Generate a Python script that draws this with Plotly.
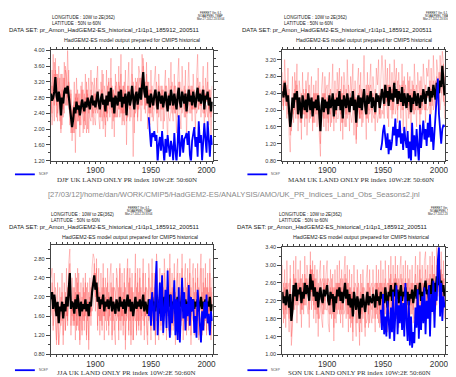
import plotly.graph_objects as go

# ---------------- data ----------------
YEARS = list(range(1860, 2006))
NCEP_YEARS = list(range(1948, 2006))

DJF_RED_A = [3.2, 2.4, 3.9, 2.6, 3.5, 2.9, 2.2, 3.6, 3.0, 1.9,
             3.4, 2.5, 3.7, 3.1, 2.6, 4.0, 2.7, 2.1, 3.0, 1.7,
             2.3, 3.2, 2.0, 3.3, 2.4, 2.9, 1.8, 3.1, 2.5, 3.0,
             2.2, 3.4, 2.6, 3.0, 1.9, 2.8, 3.5, 2.7, 2.1, 3.3,
             2.6, 3.1, 3.6, 2.3, 2.0, 3.2, 2.7, 3.4, 2.4, 2.1,
             3.5, 2.2, 3.3, 2.8, 3.8, 2.0, 3.0, 1.8, 3.4, 2.6,
             2.3, 3.6, 2.5, 3.9, 2.1, 3.1, 2.4, 3.5, 1.6, 3.0,
             3.7, 2.2, 2.9, 3.8, 2.5, 1.9, 3.3, 3.0, 2.2, 3.6,
             3.4, 2.6, 3.9, 3.3, 2.7, 2.4, 3.7, 2.0, 3.2, 2.1,
             3.5, 2.3, 2.8, 3.3, 3.6, 2.5, 1.9, 3.4, 2.9, 2.2,
             3.1, 2.0, 3.0, 3.5, 2.4, 1.7, 3.3, 2.8, 3.7, 2.5,
             2.2, 3.4, 2.6, 1.9, 3.2, 3.8, 2.4, 2.0, 3.6, 2.9,
             2.3, 3.5, 1.8, 2.9, 3.7, 2.6, 3.1, 2.2, 3.4, 2.7,
             2.0, 3.3, 3.9, 2.5, 3.2, 2.3, 2.9, 3.6, 1.9, 3.3,
             2.8, 3.7, 2.1, 3.0, 1.8, 2.6]
DJF_RED_B = [2.5, 3.1, 2.8, 3.4, 3.0, 2.3, 3.3, 2.6, 2.2, 2.9,
             2.1, 2.9, 2.4, 3.5, 3.3, 2.6, 3.2, 3.0, 1.9, 2.5,
             1.9, 2.2, 2.9, 2.0, 2.8, 2.3, 2.9, 2.1, 3.2, 2.4,
             2.9, 2.1, 3.0, 2.6, 3.3, 2.3, 2.2, 3.2, 3.1, 2.3,
             2.1, 2.7, 2.4, 3.0, 3.0, 2.3, 3.5, 2.0, 3.1, 2.9,
             2.4, 3.1, 2.6, 2.3, 2.7, 3.1, 2.5, 2.9, 2.3, 3.2,
             2.9, 2.5, 3.1, 2.4, 3.0, 2.2, 3.2, 2.4, 2.8, 2.3,
             2.4, 3.0, 2.3, 2.7, 3.2, 2.9, 2.4, 2.6, 3.3, 2.5,
             2.7, 3.3, 2.6, 3.8, 3.1, 3.2, 2.6, 3.2, 2.4, 3.0,
             2.4, 3.1, 2.2, 2.5, 2.6, 3.2, 2.9, 2.3, 2.5, 3.1,
             2.5, 3.0, 2.2, 2.6, 3.1, 2.9, 2.3, 2.2, 2.5, 3.2,
             3.0, 2.4, 3.1, 2.9, 2.3, 2.6, 3.2, 2.9, 2.4, 2.6,
             3.1, 2.3, 2.9, 2.4, 2.5, 3.0, 2.4, 3.1, 2.5, 3.0,
             2.9, 2.4, 2.5, 3.1, 2.6, 3.0, 2.5, 2.4, 3.0, 2.3,
             2.6, 2.3, 3.0, 2.4, 2.9, 3.1]
DJF_RED_C = [2.9, 2.1, 2.6, 3.7, 3.3, 3.4, 2.4, 2.8, 3.3, 2.0,
             3.0, 2.3, 3.3, 2.6, 2.8, 3.1, 2.5, 2.6, 2.2, 1.9,
             2.5, 2.7, 1.4, 2.9, 2.2, 2.6, 2.1, 2.7, 2.6, 2.3,
             2.0, 2.8, 1.9, 2.9, 2.4, 2.7, 2.8, 2.6, 2.4, 2.5,
             2.9, 2.5, 2.8, 2.6, 2.3, 2.8, 2.2, 2.5, 2.7, 1.8,
             2.7, 2.4, 2.9, 2.9, 2.6, 2.4, 3.0, 2.3, 2.8, 2.3,
             2.5, 2.8, 2.3, 2.6, 2.4, 3.1, 2.1, 2.7, 2.5, 3.1,
             2.6, 2.5, 3.0, 2.8, 1.3, 2.5, 2.8, 3.2, 2.3, 2.6,
             3.0, 2.2, 2.9, 3.2, 2.8, 2.6, 2.9, 2.6, 2.9, 2.4,
             2.8, 2.7, 2.8, 2.6, 2.9, 2.4, 2.6, 3.1, 2.9, 2.5,
             2.8, 2.5, 2.9, 2.7, 2.5, 2.6, 2.9, 2.8, 2.7, 2.4,
             2.6, 2.8, 2.4, 2.6, 3.0, 2.7, 2.5, 2.6, 2.8, 2.9,
             2.5, 2.9, 2.6, 2.8, 2.7, 2.4, 3.0, 2.5, 2.9, 2.5,
             2.7, 2.8, 2.7, 2.5, 2.9, 2.6, 3.0, 2.9, 2.5, 2.9,
             2.8, 2.7, 2.6, 3.0, 2.6, 2.4]
DJF_RED_D = [2.3, 3.5, 3.0, 2.2, 3.8, 2.6, 3.4, 3.1, 2.5, 3.4,
             2.6, 3.3, 2.9, 3.6, 3.4, 2.8, 3.5, 2.4, 2.9, 2.3,
             2.6, 1.9, 2.8, 2.5, 3.0, 2.2, 2.7, 2.4, 3.0, 1.9,
             2.7, 2.4, 3.2, 2.0, 2.8, 2.5, 3.0, 2.3, 2.8, 2.9,
             2.4, 3.3, 2.9, 2.7, 2.6, 2.9, 3.0, 2.6, 2.3, 2.8,
             2.3, 3.0, 3.2, 2.5, 3.3, 2.7, 2.2, 2.6, 3.1, 2.8,
             2.6, 3.2, 2.9, 3.4, 2.5, 2.4, 2.8, 3.0, 2.2, 2.5,
             3.1, 2.6, 2.8, 3.4, 3.0, 2.3, 3.1, 2.8, 2.5, 3.1,
             3.3, 2.9, 3.4, 3.6, 2.5, 2.8, 3.4, 2.7, 3.0, 2.6,
             3.0, 2.6, 2.5, 3.0, 2.9, 2.7, 2.4, 3.0, 2.8, 2.7,
             3.0, 2.6, 2.8, 3.1, 2.7, 2.5, 2.9, 2.5, 3.1, 2.8,
             2.5, 3.1, 2.8, 2.5, 2.9, 3.2, 2.7, 2.6, 3.0, 2.8,
             2.6, 3.0, 2.4, 2.9, 3.1, 2.8, 2.9, 2.5, 3.0, 2.8,
             2.5, 2.9, 3.3, 2.7, 3.0, 2.6, 2.8, 3.1, 2.4, 2.9,
             2.7, 3.2, 2.5, 2.8, 2.3, 2.6]
DJF_MEAN = [2.90, 2.72, 2.80, 2.95, 3.32, 2.85, 2.70, 2.95, 2.78, 2.35,
            2.80, 2.65, 2.95, 3.05, 2.90, 3.10, 2.85, 2.60, 2.40, 2.05,
            2.25, 2.55, 2.40, 2.70, 2.50, 2.60, 2.35, 2.55, 2.75, 2.60,
            2.45, 2.70, 2.55, 2.80, 2.62, 2.50, 2.75, 2.85, 2.60, 2.72,
            2.55, 2.80, 2.95, 2.65, 2.50, 2.78, 2.90, 2.62, 2.75, 2.45,
            2.85, 2.60, 2.95, 2.70, 3.05, 2.55, 2.80, 2.40, 2.85, 2.72,
            2.60, 2.95, 2.70, 3.00, 2.55, 2.82, 2.65, 2.90, 2.35, 2.80,
            2.95, 2.60, 2.75, 3.10, 2.70, 2.50, 2.85, 2.95, 2.62, 2.90,
            3.05, 2.75, 3.15, 3.45, 2.95, 2.80, 3.10, 2.65, 2.85, 2.55,
            2.90, 2.70, 2.60, 2.85, 3.00, 2.75, 2.50, 2.95, 2.80, 2.65,
            2.85, 2.55, 2.75, 2.95, 2.70, 2.45, 2.85, 2.60, 3.00, 2.75,
            2.60, 2.90, 2.75, 2.50, 2.85, 3.05, 2.70, 2.55, 2.95, 2.80,
            2.65, 2.90, 2.45, 2.75, 3.00, 2.70, 2.85, 2.60, 2.95, 2.75,
            2.55, 2.85, 3.05, 2.70, 2.90, 2.65, 2.80, 3.00, 2.50, 2.85,
            2.75, 2.95, 2.60, 2.80, 2.45, 2.70]
DJF_NCEP = [2.30, 1.75, 1.55, 1.90, 1.80, 1.95, 1.70, 1.85, 1.15, 1.60,
            1.80, 1.45, 1.95, 1.55, 1.15, 1.75, 1.40, 1.85, 1.60, 1.30,
            1.70, 1.55, 1.20, 1.90, 1.45, 1.15, 1.65, 2.35, 1.30, 1.70,
            1.85, 1.40, 1.75, 1.80, 1.90, 1.60, 1.95, 1.35, 1.15, 1.70,
            1.90, 2.05, 1.55, 1.80, 1.30, 2.20, 1.65, 1.85, 1.20, 1.60,
            2.15, 1.75, 1.40, 2.20, 1.55, 1.30, 1.85, 1.60]

MAM_RED_A = [2.9, 2.0, 3.2, 2.5, 1.8, 3.0, 1.4, 1.0, 2.3, 2.8,
             1.7, 2.9, 2.2, 3.1, 1.5, 2.7, 2.4, 1.3, 2.9, 1.9,
             2.4, 1.8, 2.6, 2.9, 1.7, 2.3, 2.8, 1.5, 2.6, 2.1,
             2.7, 1.6, 3.0, 1.4, 0.9, 2.5, 2.9, 1.6, 2.8, 2.2,
             1.8, 2.5, 2.9, 1.6, 2.6, 3.1, 1.5, 2.7, 1.7, 2.9,
             2.4, 3.0, 1.5, 2.8, 1.3, 2.9, 2.6, 1.6, 3.2, 2.3,
             1.5, 2.8, 2.4, 3.1, 1.4, 2.7, 1.2, 2.6, 3.0, 1.8,
             2.9, 1.6, 2.5, 3.3, 2.2, 1.3, 2.9, 1.7, 2.6, 3.1,
             1.7, 2.8, 2.4, 1.5, 3.0, 2.6, 3.2, 1.8, 2.7, 3.3,
             2.9, 1.8, 3.2, 2.4, 3.0, 1.6, 3.1, 2.0, 2.9, 1.9,
             3.2, 2.6, 3.0, 1.7, 2.9, 2.2, 1.8, 3.1, 1.5, 2.8,
             2.0, 1.5, 2.9, 1.8, 2.8, 1.2, 2.7, 1.9, 3.1, 2.4,
             1.6, 2.9, 2.5, 1.4, 2.8, 2.0, 3.1, 2.6, 1.7, 3.0,
             2.8, 3.2, 1.8, 3.0, 2.1, 3.3, 2.6, 1.9, 3.2, 2.9,
             1.9, 3.3, 2.8, 3.4, 3.1, 1.8]
MAM_RED_B = [2.2, 2.7, 2.3, 2.1, 2.6, 1.9, 2.5, 2.0, 1.5, 2.0,
             2.4, 2.0, 2.7, 1.9, 2.3, 2.1, 1.7, 2.4, 1.9, 2.5,
             1.6, 2.7, 1.4, 2.1, 2.6, 1.8, 2.0, 2.3, 1.7, 2.4,
             1.9, 2.4, 1.9, 2.2, 1.9, 1.7, 1.9, 2.4, 1.8, 2.5,
             2.6, 1.5, 2.0, 2.5, 1.7, 2.0, 2.3, 1.9, 2.4, 1.8,
             1.8, 2.1, 2.5, 1.7, 2.4, 1.9, 1.6, 2.5, 1.8, 2.6,
             2.4, 1.9, 1.7, 2.0, 2.5, 1.9, 2.3, 1.6, 2.0, 2.6,
             1.8, 2.5, 1.7, 2.1, 1.9, 2.6, 1.8, 2.6, 1.9, 2.0,
             2.4, 1.9, 1.8, 2.5, 2.0, 1.7, 1.9, 2.4, 1.8, 2.0,
             1.9, 2.6, 2.1, 2.3, 1.8, 2.6, 2.2, 2.5, 1.8, 2.6,
             2.3, 1.9, 2.2, 2.7, 2.1, 2.6, 2.5, 2.0, 2.7, 2.1,
             2.6, 2.4, 2.0, 2.7, 1.9, 2.5, 2.0, 2.6, 1.9, 2.2,
             2.6, 2.0, 2.2, 2.7, 1.9, 2.5, 2.1, 2.0, 2.6, 2.0,
             2.0, 2.1, 2.7, 1.9, 2.6, 2.0, 2.3, 2.7, 2.1, 2.2,
             2.9, 2.0, 2.3, 2.6, 2.2, 2.8]
MAM_RED_C = [2.6, 2.1, 2.4, 2.7, 2.3, 2.2, 1.9, 1.4, 1.8, 2.1,
             2.1, 2.5, 1.8, 2.6, 1.8, 2.2, 2.3, 1.7, 2.3, 2.0,
             2.1, 2.5, 1.8, 2.4, 2.2, 1.9, 2.3, 1.7, 2.4, 1.7,
             2.4, 2.0, 2.1, 1.6, 1.2, 2.3, 2.0, 1.8, 2.4, 1.5,
             2.3, 1.7, 2.4, 2.1, 2.2, 2.2, 1.8, 2.3, 1.9, 2.5,
             2.2, 2.3, 2.1, 2.4, 1.7, 2.6, 2.2, 2.1, 2.3, 1.9,
             1.9, 2.4, 2.2, 2.4, 2.1, 2.3, 1.3, 2.2, 2.4, 1.8,
             2.3, 1.9, 2.4, 2.5, 2.2, 1.8, 2.2, 2.3, 2.5, 2.6,
             2.1, 2.4, 2.3, 1.9, 2.2, 2.3, 2.1, 1.9, 2.4, 2.3,
             2.3, 2.1, 2.5, 2.2, 2.4, 2.1, 2.3, 2.2, 2.5, 2.0,
             2.4, 2.3, 2.3, 2.0, 2.3, 2.2, 2.4, 2.5, 2.0, 2.2,
             2.1, 2.2, 2.3, 2.1, 2.3, 2.2, 2.1, 2.0, 2.3, 2.4,
             2.1, 2.3, 2.0, 2.2, 2.3, 2.1, 2.4, 2.2, 2.0, 2.4,
             2.3, 2.4, 2.1, 2.5, 2.2, 2.4, 2.3, 2.0, 2.5, 2.3,
             2.2, 2.6, 2.4, 2.9, 2.6, 2.1]
MAM_RED_D = [2.1, 2.4, 2.7, 2.3, 2.1, 2.4, 2.0, 2.0, 1.9, 2.3,
             1.9, 2.2, 2.3, 2.2, 2.0, 2.2, 2.0, 1.8, 2.3, 2.2,
             1.9, 2.0, 2.0, 2.2, 2.1, 2.0, 2.1, 2.0, 2.1, 2.0,
             2.0, 2.0, 2.4, 1.8, 2.0, 1.9, 2.4, 2.0, 2.0, 2.0,
             2.1, 1.9, 2.1, 1.9, 2.1, 2.3, 1.8, 2.1, 2.0, 2.0,
             2.0, 2.4, 1.9, 2.0, 1.8, 2.0, 2.2, 1.9, 2.3, 2.0,
             2.0, 2.1, 2.1, 2.3, 2.0, 2.1, 2.0, 2.2, 2.0, 1.9,
             2.2, 2.0, 2.2, 2.1, 2.1, 1.9, 2.4, 2.0, 2.0, 2.1,
             2.0, 2.1, 2.1, 1.9, 2.4, 2.2, 2.2, 2.1, 2.1, 2.4,
             2.3, 2.1, 2.6, 2.3, 2.6, 2.1, 2.6, 2.3, 2.4, 2.3,
             2.7, 2.4, 2.5, 2.2, 2.5, 2.4, 2.1, 2.6, 2.2, 2.5,
             2.3, 2.1, 2.4, 2.2, 2.4, 2.0, 2.4, 2.1, 2.5, 2.0,
             2.1, 2.4, 2.3, 1.9, 2.4, 2.2, 2.4, 2.4, 2.3, 2.4,
             2.3, 2.5, 2.2, 2.4, 2.3, 2.7, 2.4, 2.4, 2.8, 2.6,
             2.6, 2.9, 2.7, 2.9, 3.1, 2.7]
MAM_MEAN = [2.45, 2.30, 2.65, 2.40, 2.20, 2.35, 1.95, 1.60, 1.85, 2.30,
            2.05, 2.40, 2.25, 2.45, 1.90, 2.30, 2.10, 1.80, 2.35, 2.15,
            2.00, 2.25, 1.95, 2.40, 2.15, 2.00, 2.30, 1.85, 2.20, 2.05,
            2.25, 2.00, 2.35, 1.75, 1.50, 2.10, 2.30, 1.95, 2.25, 2.05,
            2.20, 1.90, 2.35, 2.05, 2.15, 2.40, 1.85, 2.25, 2.00, 2.30,
            2.10, 2.45, 2.00, 2.25, 1.80, 2.35, 2.15, 2.05, 2.40, 2.20,
            1.95, 2.30, 2.10, 2.45, 2.00, 2.25, 1.70, 2.15, 2.35, 2.05,
            2.30, 2.00, 2.20, 2.50, 2.10, 1.90, 2.35, 2.15, 2.25, 2.45,
            2.05, 2.30, 2.15, 1.95, 2.40, 2.20, 2.35, 2.05, 2.25, 2.50,
            2.35, 2.15, 2.60, 2.30, 2.45, 2.10, 2.55, 2.25, 2.40, 2.20,
            2.65, 2.30, 2.50, 2.15, 2.45, 2.35, 2.20, 2.55, 2.10, 2.40,
            2.25, 2.05, 2.40, 2.20, 2.35, 1.95, 2.30, 2.15, 2.45, 2.25,
            2.10, 2.40, 2.25, 2.05, 2.35, 2.20, 2.50, 2.30, 2.15, 2.45,
            2.35, 2.55, 2.20, 2.45, 2.30, 2.60, 2.40, 2.25, 2.65, 2.50,
            2.40, 2.70, 2.55, 3.05, 2.75, 2.35]
MAM_NCEP = [1.05, 1.20, 1.50, 1.65, 1.35, 1.10, 1.45, 0.95, 1.30, 1.05,
            1.25, 1.60, 1.40, 1.80, 1.15, 1.55, 1.35, 1.75, 1.20, 1.45,
            1.05, 1.60, 1.30, 1.10, 1.50, 0.85, 1.25, 0.75, 1.70, 1.05,
            1.40, 0.90, 1.55, 1.20, 0.75, 1.65, 1.10, 1.45, 1.75, 1.30,
            1.55, 1.15, 1.70, 1.35, 1.90, 1.25, 1.60, 1.05, 1.45, 1.85,
            2.20, 2.75, 1.90, 1.40, 1.20, 1.55, 1.65, 1.60]

JJA_RED_A = [2.4, 2.6, 1.3, 2.5, 1.5, 1.1, 2.3, 1.0, 2.2, 1.4,
             2.5, 1.2, 2.3, 1.3, 2.6, 1.5, 2.7, 3.0, 1.4, 2.4,
             1.5, 2.2, 1.1, 2.4, 1.4, 2.5, 1.0, 2.3, 1.2, 2.4,
             1.3, 2.5, 1.1, 2.3, 0.9, 2.4, 1.4, 2.6, 2.9, 2.8,
             1.7, 2.8, 1.3, 2.6, 1.2, 2.5, 1.4, 2.7, 1.1, 2.4,
             1.3, 2.6, 1.2, 2.4, 2.7, 1.1, 2.5, 1.3, 1.0, 2.6,
             2.4, 1.1, 2.7, 1.3, 2.5, 1.2, 2.6, 0.9, 2.4, 2.8,
             1.2, 2.6, 1.0, 2.5, 1.1, 2.3, 2.9, 1.2, 2.6, 1.3,
             2.6, 1.2, 2.4, 2.8, 1.1, 2.5, 1.3, 1.0, 2.7, 2.3,
             1.1, 2.8, 1.3, 2.5, 1.0, 2.9, 2.3, 1.1, 2.6, 1.3,
             2.5, 1.2, 2.8, 2.3, 1.1, 2.6, 1.3, 2.9, 1.2, 2.5,
             1.3, 2.7, 1.0, 2.4, 2.8, 1.1, 2.5, 1.4, 2.9, 1.1,
             2.4, 2.7, 1.2, 2.6, 1.3, 2.8, 1.0, 2.4, 2.7, 1.2,
             2.6, 1.3, 2.7, 1.1, 2.4, 2.9, 1.2, 2.6, 1.3, 2.7,
             1.2, 2.5, 1.3, 2.8, 1.1, 2.4]
JJA_RED_B = [1.6, 1.8, 2.1, 1.7, 2.2, 2.0, 1.6, 1.8, 1.5, 2.0,
             1.5, 1.9, 1.6, 2.1, 1.6, 2.2, 1.8, 2.3, 2.0, 1.6,
             2.2, 1.4, 2.5, 1.6, 2.3, 1.3, 2.1, 1.7, 2.0, 1.5,
             2.1, 1.6, 2.2, 1.5, 2.1, 1.6, 2.2, 1.7, 1.8, 2.3,
             2.5, 1.9, 2.2, 1.6, 2.1, 1.5, 2.2, 1.6, 2.2, 1.5,
             2.2, 1.5, 2.1, 1.6, 1.5, 2.2, 1.5, 2.2, 2.1, 1.5,
             1.6, 2.2, 1.5, 2.2, 1.6, 2.1, 1.5, 2.2, 1.5, 1.6,
             2.3, 1.5, 2.2, 1.6, 2.1, 1.6, 1.5, 2.2, 1.5, 2.1,
             1.5, 2.2, 1.6, 1.5, 2.1, 1.6, 2.2, 2.1, 1.5, 1.7,
             2.2, 1.5, 2.1, 1.6, 2.2, 1.5, 1.6, 2.0, 1.6, 2.1,
             1.6, 2.2, 1.5, 1.6, 2.2, 1.6, 2.1, 1.5, 2.1, 1.6,
             2.2, 1.5, 2.1, 1.6, 1.5, 2.2, 1.6, 2.1, 1.5, 2.2,
             1.6, 1.5, 2.2, 1.5, 2.1, 1.6, 2.2, 1.6, 1.5, 2.1,
             1.6, 2.1, 1.5, 2.2, 1.6, 1.5, 2.1, 1.6, 2.2, 1.5,
             2.2, 1.6, 2.1, 1.5, 2.2, 1.7]
JJA_RED_C = [1.9, 2.3, 1.8, 1.9, 2.0, 1.7, 1.8, 1.6, 1.7, 1.8,
             1.7, 1.6, 1.7, 1.8, 1.9, 1.6, 2.0, 2.4, 1.8, 1.7,
             1.8, 1.5, 2.1, 1.4, 2.6, 1.7, 1.5, 1.9, 1.8, 1.6,
             1.6, 1.7, 1.8, 1.9, 1.6, 1.7, 1.7, 2.1, 2.4, 2.5,
             2.3, 2.3, 2.1, 1.9, 1.9, 2.0, 1.8, 1.9, 1.6, 1.8,
             1.8, 1.8, 2.0, 1.6, 1.9, 1.8, 1.7, 1.9, 1.6, 1.8,
             1.6, 1.6, 1.9, 1.8, 1.6, 1.9, 1.8, 1.7, 1.6, 2.0,
             1.7, 1.8, 1.7, 1.7, 1.5, 1.7, 1.8, 1.9, 1.7, 1.8,
             1.8, 1.7, 1.6, 1.9, 1.7, 1.6, 1.8, 1.6, 1.7, 1.7,
             1.8, 1.8, 1.9, 1.7, 1.8, 1.9, 1.7, 1.6, 1.8, 1.9,
             1.7, 1.8, 1.9, 1.7, 1.6, 1.8, 1.8, 1.9, 1.8, 1.7,
             1.8, 1.7, 1.8, 1.6, 1.9, 1.7, 1.8, 1.9, 1.8, 1.7,
             1.7, 1.8, 1.6, 1.8, 1.7, 1.9, 1.6, 1.7, 1.8, 1.8,
             1.8, 1.7, 1.8, 1.6, 1.8, 1.9, 1.7, 1.8, 1.7, 1.9,
             1.6, 1.8, 1.7, 1.9, 1.6, 1.8]
JJA_RED_D = [2.0, 1.9, 1.4, 1.6, 1.9, 1.0, 1.6, 1.0, 1.3, 1.5,
             2.1, 1.0, 1.8, 1.3, 1.8, 1.4, 2.4, 2.7, 1.2, 1.9,
             1.4, 1.9, 2.0, 1.3, 1.8, 2.1, 1.1, 1.7, 1.3, 2.2,
             1.5, 2.3, 1.2, 1.9, 1.1, 2.0, 1.6, 2.3, 2.2, 2.7,
             2.0, 2.6, 1.4, 2.2, 1.5, 1.9, 1.3, 2.4, 1.6, 2.0,
             1.7, 2.3, 1.4, 1.9, 2.3, 1.2, 2.2, 1.3, 1.7, 2.4,
             2.2, 1.3, 2.6, 1.5, 2.0, 1.4, 2.3, 1.1, 2.1, 2.6,
             1.3, 2.4, 1.2, 2.2, 1.1, 2.1, 2.5, 1.3, 2.3, 1.4,
             2.4, 1.3, 2.0, 2.5, 1.4, 2.2, 1.5, 1.2, 2.4, 2.1,
             1.3, 2.5, 1.4, 2.2, 1.2, 2.6, 2.0, 1.3, 2.3, 1.4,
             2.2, 1.4, 2.5, 2.0, 1.3, 2.3, 1.5, 2.6, 1.3, 2.2,
             1.4, 2.4, 1.2, 2.1, 2.5, 1.3, 2.2, 1.5, 2.6, 1.3,
             2.1, 2.4, 1.3, 2.3, 1.4, 2.5, 1.2, 2.1, 2.4, 1.3,
             2.3, 1.4, 2.4, 1.2, 2.1, 2.6, 1.3, 2.3, 1.4, 2.4,
             1.3, 2.2, 1.4, 2.5, 1.2, 2.1]
JJA_MEAN = [1.95, 2.10, 1.75, 2.05, 1.85, 1.60, 1.90, 1.45, 1.80, 1.70,
            1.90, 1.55, 1.85, 1.70, 2.00, 1.80, 2.15, 2.50, 1.75, 1.90,
            1.85, 1.65, 1.95, 1.75, 2.05, 1.80, 1.60, 1.90, 1.70, 1.85,
            1.75, 1.95, 1.70, 1.85, 1.60, 1.90, 1.80, 2.10, 2.25, 2.45,
            2.15, 2.30, 1.90, 2.00, 1.75, 1.95, 1.85, 2.05, 1.70, 1.90,
            1.80, 1.95, 1.75, 1.85, 2.00, 1.70, 1.90, 1.80, 1.65, 1.95,
            1.85, 1.70, 2.00, 1.80, 1.90, 1.75, 1.95, 1.65, 1.85, 2.05,
            1.80, 1.95, 1.70, 1.90, 1.60, 1.85, 2.00, 1.75, 1.90, 1.80,
            1.95, 1.75, 1.85, 2.05, 1.70, 1.90, 1.80, 1.65, 1.95, 1.85,
            1.75, 2.00, 1.80, 1.90, 1.70, 2.05, 1.85, 1.65, 1.95, 1.80,
            1.90, 1.75, 2.00, 1.85, 1.70, 1.95, 1.80, 2.05, 1.75, 1.90,
            1.80, 1.95, 1.65, 1.85, 2.00, 1.75, 1.90, 1.80, 2.05, 1.70,
            1.85, 1.95, 1.75, 1.90, 1.80, 2.00, 1.70, 1.85, 1.95, 1.75,
            1.90, 1.80, 1.95, 1.70, 1.85, 2.00, 1.75, 1.90, 1.80, 1.95,
            1.75, 1.90, 1.80, 2.00, 1.70, 1.85]
JJA_NCEP = [1.60, 1.95, 1.40, 2.10, 1.75, 1.30, 2.20, 2.75, 1.20, 1.85,
            2.30, 1.50, 2.45, 1.25, 1.90, 2.15, 1.35, 2.55, 1.70, 1.15,
            2.05, 1.45, 1.80, 2.35, 1.20, 1.95, 1.10, 2.20, 1.05, 1.75,
            2.40, 1.55, 2.10, 1.30, 1.85, 1.60, 2.25, 1.40, 2.00, 1.70,
            1.95, 1.25, 1.60, 1.15, 2.15, 1.80, 1.35, 1.05, 1.70, 1.30,
            1.90, 1.55, 2.05, 1.45, 1.65, 1.20, 1.70, 1.50]

SON_RED_A = [3.0, 1.7, 2.9, 1.6, 3.1, 2.0, 1.5, 3.0, 1.2, 1.6,
             3.1, 2.0, 3.2, 1.7, 2.9, 2.2, 3.1, 1.6, 2.8, 1.9,
             3.2, 2.1, 3.0, 2.7, 1.6, 3.3, 2.0, 3.1, 1.8, 3.0,
             1.7, 2.9, 1.4, 2.8, 3.1, 1.8, 1.6, 3.0, 2.0, 2.8,
             3.1, 1.7, 1.5, 2.9, 1.8, 2.8, 1.3, 2.9, 1.7, 3.0,
             2.0, 3.1, 1.7, 2.9, 1.6, 2.8, 3.2, 1.8, 3.0, 1.5,
             2.9, 1.6, 2.8, 1.3, 3.0, 1.8, 1.4, 2.9, 1.7, 1.2,
             2.8, 1.5, 2.9, 1.8, 1.4, 2.7, 3.0, 1.6, 2.9, 1.9,
             1.7, 2.9, 2.0, 1.5, 3.0, 1.8, 2.9, 1.6, 3.1, 1.9,
             2.9, 1.7, 3.1, 2.0, 1.5, 3.0, 1.9, 3.2, 1.8, 3.0,
             1.9, 3.2, 1.8, 3.0, 1.6, 2.9, 3.2, 1.7, 3.0, 2.0,
             3.1, 1.8, 3.0, 1.6, 2.9, 1.9, 3.0, 1.7, 2.8, 3.2,
             1.9, 3.0, 2.1, 3.3, 1.7, 3.0, 2.0, 3.1, 3.3, 1.9,
             3.0, 1.8, 3.2, 2.1, 3.3, 1.9, 3.2, 2.0, 3.4, 2.3,
             3.4, 2.1, 3.3, 1.9, 3.1, 1.8]
SON_RED_B = [2.0, 2.6, 1.8, 2.6, 1.9, 2.5, 2.6, 1.9, 2.3, 2.4,
             2.0, 2.7, 2.1, 2.6, 2.1, 2.6, 1.9, 2.7, 2.0, 2.6,
             2.1, 2.7, 2.1, 1.9, 2.7, 2.3, 2.9, 2.2, 2.8, 2.0,
             2.7, 1.9, 2.6, 1.8, 2.0, 2.6, 2.7, 1.9, 2.7, 2.0,
             2.0, 2.7, 2.6, 1.9, 2.7, 1.9, 2.5, 1.8, 2.6, 1.9,
             2.6, 1.9, 2.7, 1.9, 2.7, 1.9, 2.0, 2.7, 1.9, 2.6,
             1.8, 2.5, 1.7, 2.4, 1.9, 2.6, 2.5, 1.7, 2.6, 2.3,
             1.7, 2.6, 1.8, 2.5, 2.4, 1.7, 1.8, 2.6, 1.7, 2.5,
             2.6, 1.8, 2.5, 2.6, 1.9, 2.6, 1.7, 2.6, 1.7, 2.6,
             1.8, 2.6, 1.9, 2.5, 2.6, 1.8, 2.7, 1.9, 2.6, 1.9,
             2.7, 1.9, 2.7, 1.9, 2.7, 1.8, 1.9, 2.7, 1.8, 2.6,
             1.9, 2.6, 1.8, 2.7, 1.8, 2.6, 1.9, 2.6, 1.8, 2.0,
             2.6, 1.9, 2.6, 1.9, 2.7, 1.8, 2.6, 1.9, 2.0, 2.7,
             1.9, 2.7, 1.9, 2.6, 2.1, 2.8, 1.9, 2.6, 2.1, 2.8,
             2.4, 2.9, 2.0, 2.8, 2.0, 2.7]
SON_RED_C = [2.4, 2.2, 2.3, 2.1, 2.4, 2.3, 2.0, 2.3, 1.9, 2.0,
             2.5, 2.2, 2.5, 2.3, 2.4, 2.3, 2.5, 2.1, 2.4, 2.2,
             2.5, 2.3, 2.6, 2.4, 2.3, 2.9, 2.4, 2.7, 2.3, 2.5,
             2.2, 2.4, 2.1, 2.4, 2.5, 2.3, 2.1, 2.5, 2.3, 2.4,
             2.6, 2.2, 2.1, 2.4, 2.2, 2.4, 2.0, 2.3, 2.2, 2.5,
             2.3, 2.5, 2.2, 2.4, 2.2, 2.4, 2.6, 2.3, 2.4, 2.1,
             2.4, 2.0, 2.3, 1.8, 2.4, 2.2, 2.0, 2.3, 2.1, 1.8,
             2.2, 2.1, 2.3, 2.2, 1.9, 2.2, 2.4, 2.1, 2.3, 2.2,
             2.2, 2.3, 2.2, 2.1, 2.4, 2.2, 2.3, 2.1, 2.4, 2.2,
             2.3, 2.2, 2.5, 2.2, 2.1, 2.4, 2.3, 2.5, 2.2, 2.4,
             2.3, 2.6, 2.2, 2.4, 2.2, 2.3, 2.5, 2.2, 2.4, 2.3,
             2.5, 2.2, 2.4, 2.1, 2.3, 2.3, 2.4, 2.2, 2.3, 2.5,
             2.2, 2.5, 2.3, 2.6, 2.2, 2.4, 2.3, 2.5, 2.6, 2.4,
             2.4, 2.3, 2.5, 2.4, 2.7, 2.4, 2.6, 2.3, 2.7, 2.6,
             2.9, 2.5, 2.6, 2.4, 2.5, 2.3]
SON_RED_D = [2.3, 1.9, 2.5, 2.0, 2.6, 2.2, 1.8, 2.7, 1.4, 1.8,
             2.8, 2.3, 2.7, 2.2, 2.6, 2.4, 2.7, 2.0, 2.6, 2.1,
             2.8, 2.4, 2.7, 2.5, 2.0, 3.0, 2.4, 2.9, 2.1, 2.7,
             2.0, 2.5, 1.8, 2.5, 2.7, 2.1, 1.9, 2.6, 2.2, 2.5,
             2.7, 2.0, 1.9, 2.5, 2.1, 2.5, 1.6, 2.5, 2.0, 2.6,
             2.2, 2.6, 2.0, 2.5, 2.0, 2.5, 2.8, 2.1, 2.6, 1.9,
             2.5, 1.8, 2.4, 1.5, 2.5, 2.0, 1.7, 2.5, 2.0, 1.5,
             2.4, 1.9, 2.5, 2.0, 1.6, 2.3, 2.6, 1.9, 2.5, 2.1,
             2.0, 2.5, 2.2, 1.8, 2.6, 2.0, 2.5, 1.9, 2.6, 2.1,
             2.5, 2.0, 2.7, 2.1, 1.8, 2.6, 2.2, 2.8, 2.0, 2.6,
             2.2, 2.8, 2.1, 2.6, 1.9, 2.5, 2.8, 2.0, 2.6, 2.2,
             2.7, 2.0, 2.6, 1.9, 2.5, 2.1, 2.6, 2.0, 2.5, 2.8,
             2.1, 2.6, 2.3, 2.9, 2.0, 2.6, 2.2, 2.7, 2.9, 2.2,
             2.6, 2.1, 2.8, 2.3, 3.0, 2.2, 2.8, 2.2, 3.0, 2.5,
             3.2, 2.3, 2.9, 2.2, 2.7, 2.1]
SON_MEAN = [2.40, 2.15, 2.30, 2.10, 2.45, 2.25, 2.05, 2.35, 1.75, 2.00,
            2.55, 2.30, 2.60, 2.20, 2.45, 2.35, 2.50, 2.15, 2.40, 2.25,
            2.60, 2.35, 2.55, 2.40, 2.20, 2.80, 2.45, 2.65, 2.30, 2.50,
            2.20, 2.40, 2.05, 2.35, 2.50, 2.25, 2.15, 2.45, 2.30, 2.40,
            2.55, 2.20, 2.10, 2.40, 2.25, 2.35, 1.95, 2.30, 2.15, 2.45,
            2.30, 2.50, 2.20, 2.40, 2.15, 2.35, 2.60, 2.25, 2.45, 2.10,
            2.35, 2.05, 2.25, 1.85, 2.40, 2.20, 2.00, 2.30, 2.15, 1.80,
            2.25, 2.05, 2.35, 2.15, 1.95, 2.20, 2.40, 2.10, 2.30, 2.20,
            2.15, 2.35, 2.25, 2.05, 2.45, 2.20, 2.30, 2.10, 2.40, 2.25,
            2.35, 2.15, 2.50, 2.25, 2.05, 2.40, 2.30, 2.55, 2.20, 2.45,
            2.30, 2.60, 2.25, 2.45, 2.15, 2.35, 2.55, 2.20, 2.40, 2.30,
            2.50, 2.20, 2.40, 2.10, 2.35, 2.25, 2.45, 2.15, 2.30, 2.55,
            2.25, 2.45, 2.35, 2.60, 2.20, 2.40, 2.30, 2.50, 2.65, 2.35,
            2.45, 2.25, 2.55, 2.35, 2.70, 2.40, 2.60, 2.30, 2.75, 2.55,
            2.90, 2.50, 2.65, 2.40, 2.55, 2.30]
SON_NCEP = [2.00, 1.55, 2.35, 1.45, 1.85, 1.40, 2.20, 1.60, 1.35, 2.05,
            1.50, 2.40, 1.30, 1.90, 2.55, 1.45, 2.10, 1.70, 2.30, 1.55,
            2.15, 1.40, 2.60, 1.75, 1.30, 2.20, 1.20, 1.85, 1.15, 1.50,
            1.25, 2.05, 1.60, 2.45, 1.35, 2.10, 1.55, 2.30, 1.70, 2.50,
            1.45, 2.20, 1.80, 2.55, 1.40, 2.35, 1.95, 2.65, 1.60, 2.40,
            2.20, 3.10, 3.40, 1.85, 2.60, 1.75, 2.30, 2.05]

SEASONS = ["DJF", "MAM", "JJA", "SON"]
X_TICKS = [1900, 1950, 2000]
HEADER_LON = "LONGITUDE : 10W to 2E(362)"
HEADER_LAT = "LATITUDE : 50N to 60N"
HEADER_DS = "DATA SET: pr_Amon_HadGEM2-ES_historical_r1i1p1_185912_200511"
HEADER_MODEL = "HadGEM2-ES model output prepared for CMIP5 historical"
STAMP = ["FERRET Ver. 6.1", "NOAA/PMEL TMAP", "Mar 27 2012 23:33:04"]
TITLE_SUFFIX = " UK LAND ONLY PR index 10W:2E 50:60N"
PATH_TEXT = "[27/03/12]/home/dan/WORK/CMIP5/HadGEM2-ES/ANALYSIS/AMO/UK_PR_Indices_Land_Obs_Seasons2.jnl"

# ---------------- layout helpers ----------------
W, H = 456, 377


def px(x):
    return x / W


def py(y):
    return 1 - y / H


panels = [
    dict(reds=[DJF_RED_A, DJF_RED_B, DJF_RED_C, DJF_RED_D], mean=DJF_MEAN, ncep=DJF_NCEP,
         yrange=[1.2, 4.0], tick0=1.2, box=(43, 206, 40, 152),
         lon=(43, 7), lat=(43, 13), ds=(0, 19.5), model=(125, 29), stamp=(204, 2),
         leg=(7, 27, 166), title=(48, 172)),
    dict(reds=[MAM_RED_A, MAM_RED_B, MAM_RED_C, MAM_RED_D], mean=MAM_MEAN, ncep=MAM_NCEP,
         yrange=[0.8, 3.42], tick0=0.8, box=(276, 440, 40, 152),
         lon=(277, 7), lat=(277, 13), ds=(235, 19.5), model=(358, 29), stamp=(432, 2),
         leg=(241, 261, 166), title=(281, 172)),
    dict(reds=[JJA_RED_A, JJA_RED_B, JJA_RED_C, JJA_RED_D], mean=JJA_MEAN, ncep=JJA_NCEP,
         yrange=[0.8, 3.08], tick0=0.8, box=(43, 206, 238, 349),
         lon=(42, 207), lat=(42, 213), ds=(0, 220), model=(123, 230), stamp=(132, 200),
         leg=(7, 27, 365), title=(48, 368)),
    dict(reds=[SON_RED_A, SON_RED_B, SON_RED_C, SON_RED_D], mean=SON_MEAN, ncep=SON_NCEP,
         yrange=[1.0, 3.4], tick0=1.0, box=(276, 440, 240, 349),
         lon=(272, 207), lat=(272, 213), ds=(230, 220), model=(355, 230), stamp=(437, 200),
         leg=(241, 261, 365), title=(281, 368)),
]

RED = "rgba(255,80,80,0.42)"
AXIS_COL = "#444"
SANS = "Liberation Sans"
SERIF = "Liberation Serif"

fig = go.Figure()
layout = dict(width=W, height=H, autosize=False, margin=dict(l=0, r=0, t=0, b=0),
              paper_bgcolor="white", plot_bgcolor="white", showlegend=False)
annotations = []
shapes = []


def note(text, x, y, size, anchor="left", color="#222", family=SANS):
    annotations.append(dict(text=text, x=px(x), y=py(y), xref="paper", yref="paper",
                            xanchor=anchor, yanchor="middle", showarrow=False,
                            borderpad=0, font=dict(size=size, color=color, family=family)))


for i, (season, p) in enumerate(zip(SEASONS, panels)):
    n = "" if i == 0 else str(i + 1)
    xa, ya = "x" + n, "y" + n
    for r in p["reds"]:
        fig.add_trace(go.Scatter(x=YEARS, y=r, mode="lines", xaxis=xa, yaxis=ya,
                                 line=dict(color=RED, width=0.8), hoverinfo="skip"))
    fig.add_trace(go.Scatter(x=YEARS, y=p["mean"], mode="lines", xaxis=xa, yaxis=ya,
                             line=dict(color="black", width=2.2)))
    fig.add_trace(go.Scatter(x=NCEP_YEARS, y=p["ncep"], mode="lines", xaxis=xa, yaxis=ya,
                             line=dict(color="#0000ff", width=1.8), name="NCEP"))
    x0, x1, y0, y1 = p["box"]
    layout["xaxis" + n] = dict(
        domain=[px(x0), px(x1)], anchor=ya, range=[1859.8, 2005.5],
        tickmode="array", tickvals=X_TICKS, ticks="outside", ticklen=2,
        tickfont=dict(size=8.2, family=SANS, color="#333"),
        showline=True, linecolor=AXIS_COL, linewidth=1, mirror="ticks",
        tickcolor=AXIS_COL, showgrid=False, zeroline=False,
        minor=dict(tickmode="linear", tick0=1860, dtick=5, ticks="outside", ticklen=2,
                   tickcolor=AXIS_COL, showgrid=False))
    layout["yaxis" + n] = dict(
        domain=[py(y1), py(y0)], anchor=xa, range=p["yrange"],
        tick0=p["tick0"], dtick=0.4, tickformat=".2f", ticks="outside", ticklen=4,
        tickfont=dict(size=5.5, family=SANS, color="#333"),
        showline=True, linecolor=AXIS_COL, linewidth=1, mirror="ticks",
        tickcolor=AXIS_COL, showgrid=False, zeroline=False,
        minor=dict(dtick=0.2, ticks="outside", ticklen=2, tickcolor=AXIS_COL, showgrid=False))

    # header texts
    note(HEADER_LON, p["lon"][0], p["lon"][1], 4.6)
    note(HEADER_LAT, p["lat"][0], p["lat"][1], 4.6)
    note(HEADER_DS, p["ds"][0], p["ds"][1], 6.0)
    note(HEADER_MODEL, p["model"][0], p["model"][1], 5.3, anchor="center")
    for k, s in enumerate(STAMP):
        note(s, p["stamp"][0], p["stamp"][1] + 3 * k, 2.8, anchor="center")
    # legend key
    lx0, lx1, ly = p["leg"]
    shapes.append(dict(type="line", xref="paper", yref="paper", x0=px(lx0), x1=px(lx1),
                       y0=py(ly), y1=py(ly), line=dict(color="#0000ff", width=1.8)))
    note("NCEP", lx1 + 3, ly - 0.5, 3.2, color="#555")
    # title
    note(season + TITLE_SUFFIX, p["title"][0], p["title"][1], 7.0, family=SERIF, color="#333")

note(PATH_TEXT, 227, 186, 7.6, anchor="center", color="#888")

layout["annotations"] = annotations
layout["shapes"] = shapes
fig.update_layout(**layout)
fig.write_html("out.html")
